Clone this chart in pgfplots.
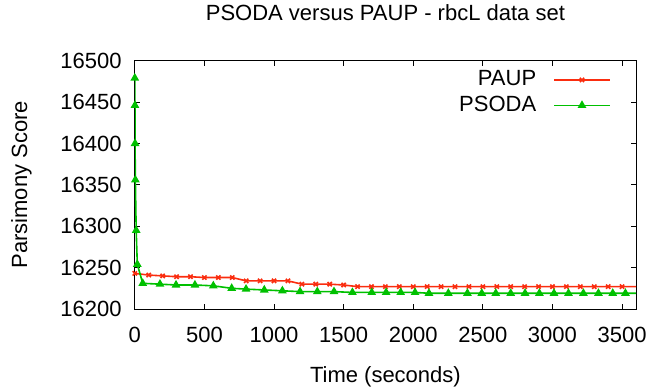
\documentclass[border=0pt]{standalone}
\usepackage{fontspec}
\setmainfont{Liberation Sans}
\usepackage{pgfplots}
\pgfplotsset{compat=1.18}
\definecolor{pred}{RGB}{250,45,15}
\definecolor{pgreen}{RGB}{0,192,0}
\begin{document}
\fontsize{22}{26}\selectfont
\begin{tikzpicture}
\begin{axis}[
  name=ax,
  scale only axis,
  width=501.2pt, height=248.3pt,
  xmin=0, xmax=3600, ymin=16200, ymax=16500,
  xtick distance=500, ytick distance=50,
  scaled ticks=false,
  /pgf/number format/assume math mode=true,
  /pgf/number format/1000 sep={},
  major tick length=5pt,
  tick style={black, line width=0.8pt},
  axis line style={line width=0.9pt},
  font=\fontsize{22}{26}\selectfont,
  yticklabel style={inner sep=0pt, xshift=-13pt},
  xticklabel style={inner sep=0pt, yshift=-18pt},
  xlabel={Time (seconds)},
  ylabel={Parsimony Score},
  xlabel style={at={(axis description cs:0.5,-0.272)}, anchor=center},
  ylabel style={at={(axis description cs:-0.226,0.5)}, anchor=center},
  title={PSODA versus PAUP - rbcL data set},
  title style={at={(axis description cs:0.5,1.168)}, anchor=center},
  legend style={draw=none, fill=none, at={(1,1)}, anchor=north east,
    xshift=-25pt, yshift=-9pt, inner sep=0pt,
    nodes={inner sep=0pt, text height=16pt, text depth=4pt},
    row sep=5.5pt, column sep=17pt,
    font=\fontsize{22}{26}\selectfont},
  legend plot pos=right,
  legend cell align=right,
  legend image code/.code={\draw[mark repeat=2,mark phase=2,#1] plot coordinates {(0pt,0pt)(28pt,0pt)(56pt,0pt)};},
]
\addplot[color=pred, line width=1.6pt, mark=x, mark size=3pt, mark options={line width=1.6pt}] coordinates {
(0,16243)(100,16241)(200,16240)(300,16239)(400,16239)(500,16238)(600,16238)(700,16238)
(800,16234)(900,16234)(1000,16234)(1100,16234)(1200,16230)(1300,16230)(1400,16230)
(1500,16229)(1600,16227)(1700,16227)(1800,16227)(1900,16227)(2000,16227)(2100,16227)
(2200,16227)(2300,16227)(2400,16227)(2500,16227)(2600,16227)(2700,16227)(2800,16227)
(2900,16227)(3000,16227)(3100,16227)(3200,16227)(3300,16227)(3400,16227)(3500,16227)(3650,16227)
};
\addlegendentry{PAUP}
\addplot[color=pgreen, line width=1.6pt, mark=triangle*, mark size=3.5pt] coordinates {
(0,16479)(1,16446)(2,16400)(4,16356)(10,16295)(18,16254)(57,16231)(181,16230)(296,16229)
(432,16229)(564,16228)(696,16225)(799,16224)(930,16223)(1060,16222)(1187,16221)(1311,16221)
(1431,16221)(1563,16220)(1702,16220)(1805,16220)(1910,16220)(2013,16220)(2113,16219)
(2252,16219)(2389,16219)(2492,16219)(2593,16219)(2700,16219)(2803,16219)(2906,16219)
(3011,16219)(3115,16219)(3222,16219)(3330,16219)(3433,16219)(3524,16219)(3650,16219)
};
\addlegendentry{PSODA}
\end{axis}
\pgfresetboundingbox
\path[use as bounding box] ([shift={(-134.8pt,-80pt)}]ax.south west) rectangle ([shift={(16pt,60.7pt)}]ax.north east);
\end{tikzpicture}
\end{document}
